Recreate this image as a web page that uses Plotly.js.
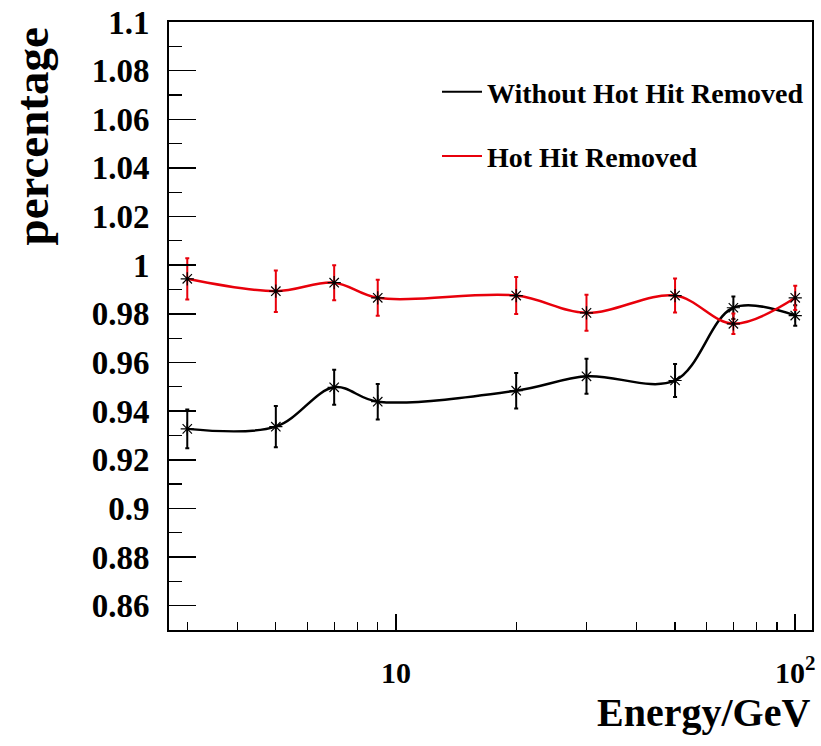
<!DOCTYPE html>
<html>
<head>
<meta charset="utf-8">
<script src="https://cdn.plot.ly/plotly-3.0.1.min.js"></script>
<style>
  html, body { margin: 0; padding: 0; background: #ffffff; }
  #chart { width: 821px; height: 746px; }
</style>
</head>
<body>
<div id="chart"></div>
<script>
// Beam energies (GeV)
const energy = [3, 5, 7, 9, 20, 30, 50, 70, 100];

// Efficiency without hot-hit removal
const withoutHot = [0.9327, 0.9336, 0.9498, 0.9439, 0.9484, 0.9543, 0.9526, 0.9825, 0.9793];
const withoutHotErr = [0.0080, 0.0085, 0.0072, 0.0073, 0.0073, 0.0072, 0.0068, 0.0046, 0.0042];

// Efficiency after hot-hit removal
const hotRemoved = [0.9944, 0.9893, 0.9928, 0.9866, 0.9875, 0.9804, 0.9875, 0.9759, 0.9866];
const hotRemovedErr = [0.0085, 0.0085, 0.0072, 0.0074, 0.0076, 0.0074, 0.0070, 0.0042, 0.0050];

// Axis tick labels
const yTickVals = [0.86, 0.88, 0.90, 0.92, 0.94, 0.96, 0.98, 1.00, 1.02, 1.04, 1.06, 1.08, 1.10];
const yTickText = ['0.86', '0.88', '0.9', '0.92', '0.94', '0.96', '0.98', '1', '1.02', '1.04', '1.06', '1.08', '1.1'];
const xTickVals = [10, 100];
const xTickText = ['10', '10<sup>2</sup>'];

const seriesNames = ['Without Hot Hit Removed', 'Hot Hit Removed'];

const serif = 'Liberation Serif, Times New Roman, serif';

function curve(y, err, color) {
  return {
    x: energy, y: y, type: 'scatter', mode: 'lines+markers',
    line: { color: color, width: 2.5, shape: 'spline', smoothing: 1 },
    marker: { symbol: 'asterisk-open', size: 11, color: '#000', line: { color: '#000', width: 1.2 } },
    error_y: { type: 'data', array: err, visible: true, color: color, thickness: 2, width: 2 },
    showlegend: false, hoverinfo: 'x+y'
  };
}

function legendEntry(name, color, group) {
  return {
    x: [null], y: [null], type: 'scatter', mode: 'lines', name: name,
    legendgroup: group, line: { color: color, width: 2 }, showlegend: true
  };
}

const traces = [
  curve(withoutHot, withoutHotErr, '#000000'),
  curve(hotRemoved, hotRemovedErr, '#e8000b'),
  legendEntry(seriesNames[0], '#000000', 'a'),
  legendEntry(seriesNames[1], '#e8000b', 'b')
];

const layout = {
  width: 821, height: 746,
  margin: { l: 169, r: 9, t: 22, b: 116, pad: 0 },
  paper_bgcolor: '#ffffff', plot_bgcolor: '#ffffff',
  font: { family: serif, color: '#000' },
  xaxis: {
    type: 'log', range: [Math.log10(2.7), 2.042],
    tickmode: 'array', tickvals: xTickVals, ticktext: xTickText,
    ticks: 'inside', ticklen: 16, tickwidth: 1.5, tickcolor: '#000',
    minor: { dtick: 'D1', ticks: 'inside', ticklen: 8, tickwidth: 1.2, tickcolor: '#000', showgrid: false },
    showline: true, mirror: true, linecolor: '#000', linewidth: 2,
    showgrid: false, zeroline: false,
    tickfont: { family: serif, size: 30, weight: 'bold', color: '#000' },
    ticklabelstandoff: 15
  },
  yaxis: {
    range: [0.85, 1.1],
    tickmode: 'array', tickvals: yTickVals, ticktext: yTickText,
    ticks: 'inside', ticklen: 27, tickwidth: 1.5, tickcolor: '#000',
    minor: { dtick: 0.01, tick0: 0.85, ticks: 'inside', ticklen: 13, tickwidth: 1.2, tickcolor: '#000', showgrid: false },
    showline: true, mirror: true, linecolor: '#000', linewidth: 2,
    showgrid: false, zeroline: false,
    tickfont: { family: serif, size: 33, weight: 'bold', color: '#000' },
    ticklabelstandoff: 11
  },
  legend: {
    x: (437 - 169) / 643, y: (630 - 67) / 608, xanchor: 'left', yanchor: 'top',
    bgcolor: 'rgba(0,0,0,0)', borderwidth: 0,
    font: { family: serif, size: 28, weight: 'bold', color: '#000' },
    traceorder: 'grouped', tracegroupgap: 25, itemwidth: 40
  },
  annotations: [
    {
      text: 'percentage', textangle: -90, showarrow: false,
      xref: 'paper', yref: 'paper', x: (31 - 169) / 643, y: (630 - 136.5) / 608,
      xanchor: 'center', yanchor: 'middle',
      font: { family: serif, size: 47, weight: 'bold', color: '#000' }
    },
    {
      text: 'Energy/GeV', showarrow: false,
      xref: 'paper', yref: 'paper', x: 1, y: (630 - 712) / 608,
      xanchor: 'right', yanchor: 'middle',
      font: { family: serif, size: 40, weight: 'bold', color: '#000' }
    }
  ]
};

Plotly.newPlot('chart', traces, layout, { displayModeBar: false, staticPlot: true });
</script>
</body>
</html>
